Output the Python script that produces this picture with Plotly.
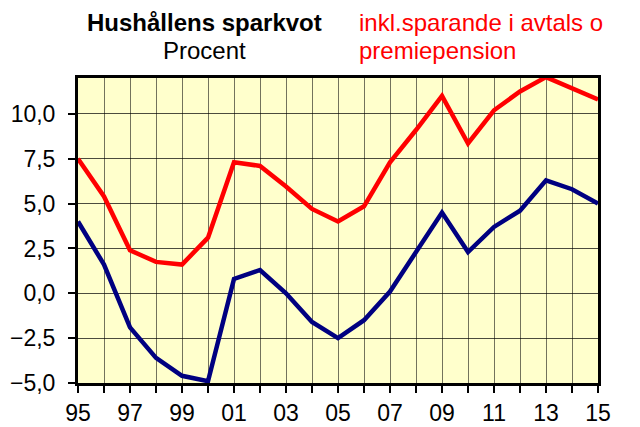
import plotly.graph_objects as go

# Hushållens sparkvot, procent
years = list(range(1995, 2016))
sparkvot = [4.0, 1.6, -1.9, -3.6, -4.6, -4.9, 0.8, 1.3, 0.0, -1.6, -2.5, -1.5, 0.1,
            2.3, 4.5, 2.3, 3.7, 4.6, 6.3, 5.8, 5.0]
sparkvot_inkl = [7.5, 5.4, 2.4, 1.75, 1.6, 3.1, 7.3, 7.1, 5.95, 4.7, 4.0, 4.85, 7.3,
                 9.1, 11.0, 8.35, 10.2, 11.25, 12.05, 11.4, 10.8]
x_labels = [str(y)[-2:] if y % 2 == 1 else "" for y in years]
y_ticks = [-5.0, -2.5, 0.0, 2.5, 5.0, 7.5, 10.0]

# the page body has an 8px margin, so the figure sits 8px in from the corner
OFF = 8
W, H = 640, 427
# plot area as seen on the page (left, top, right, bottom)
L, T, R, B = 78 - OFF, 78 - OFF, 598 - OFF, 383 - OFF

fig = go.Figure()
fig.add_trace(go.Scatter(x=years, y=sparkvot_inkl, mode="lines",
                         line=dict(color="#FF0000", width=4.5)))
fig.add_trace(go.Scatter(x=years, y=sparkvot, mode="lines",
                         line=dict(color="#000080", width=4.5)))


def paper(x, y):
    # page pixel -> paper coordinates
    x, y = x - OFF, y - OFF
    return (x - L) / (R - L), (B - y) / (B - T)


def label(text, x, y, color="black", xanchor="center"):
    px_, py_ = paper(x, y)
    return dict(text=text, x=px_, y=py_, xref="paper", yref="paper",
                xanchor=xanchor, yanchor="middle", showarrow=False,
                font=dict(size=24, color=color))


fig.update_layout(
    width=W, height=H,
    margin=dict(l=L, r=W - R, t=T, b=H - B, autoexpand=False),
    paper_bgcolor="white",
    plot_bgcolor="#FFFFCC",
    showlegend=False,
    separators=", ",
    font=dict(family="Liberation Sans, Arial, sans-serif", color="black", size=23),
    annotations=[
        label("<b>Hushållens sparkvot</b>", 204, 22),
        label("Procent", 204, 50),
        label("inkl.sparande i avtals o", 357, 22, "#FF0000", "left"),
        label("premiepension", 357, 50, "#FF0000", "left"),
    ],
)

fig.update_xaxes(
    range=[1995, 2015], tickvals=years, ticktext=x_labels,
    ticks="outside", ticklen=7, tickwidth=2, tickcolor="black",
    showgrid=True, gridcolor="rgba(0,0,0,0.55)", gridwidth=1,
    showline=True, linecolor="black", linewidth=3, mirror=True,
    zeroline=False, tickfont=dict(size=23), automargin=False,
)
fig.update_yaxes(
    range=[-5, 12], tickvals=y_ticks, tickformat=".1f",
    ticks="outside", ticklen=7, tickwidth=2, tickcolor="black",
    showgrid=True, gridcolor="rgba(0,0,0,0.7)", gridwidth=1,
    showline=True, linecolor="black", linewidth=3, mirror=True,
    zeroline=False, tickfont=dict(size=23), automargin=False,
    ticklabelstandoff=8,
)

fig.write_html("out.html")
